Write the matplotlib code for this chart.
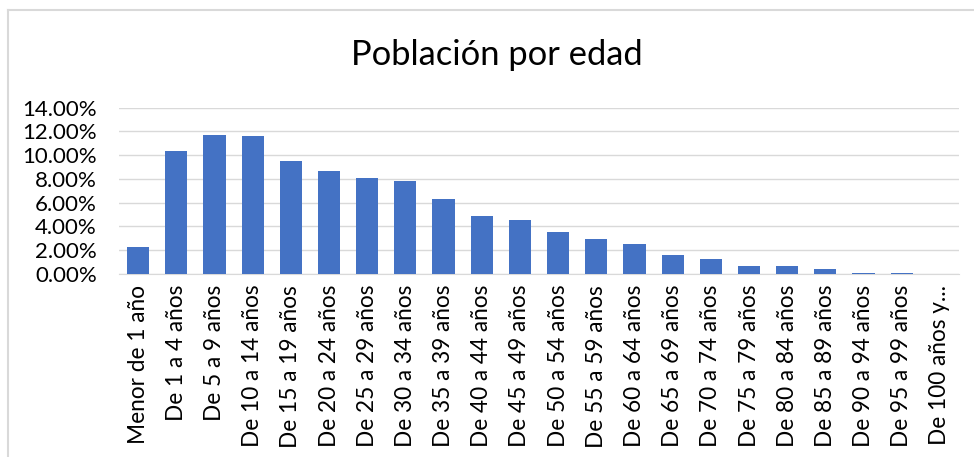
import matplotlib
matplotlib.use("Agg")
import matplotlib.pyplot as plt
from matplotlib.ticker import FuncFormatter, MultipleLocator
from matplotlib.lines import Line2D

categories = ["Menor de 1 año", "De 1 a 4 años", "De 5 a 9 años", "De 10 a 14 años",
              "De 15 a 19 años", "De 20 a 24 años", "De 25 a 29 años", "De 30 a 34 años",
              "De 35 a 39 años", "De 40 a 44 años", "De 45 a 49 años", "De 50 a 54 años",
              "De 55 a 59 años", "De 60 a 64 años", "De 65 a 69 años", "De 70 a 74 años",
              "De 75 a 79 años", "De 80 a 84 años", "De 85 a 89 años", "De 90 a 94 años",
              "De 95 a 99 años", "De 100 años y..."]
values = [2.23, 10.33, 11.70, 11.62, 9.51, 8.69, 8.05, 7.82, 6.33, 4.84, 4.51, 3.52,
          2.93, 2.51, 1.55, 1.24, 0.65, 0.65, 0.37, 0.10, 0.02, 0.0]

plt.rcParams['font.family'] = ['Lato', 'DejaVu Sans']

W, H = 974, 457
fig = plt.figure(figsize=(W / 100, H / 100), dpi=100)
ax = fig.add_axes([119 / W, 1 - 273.7 / H, (959 - 119) / W, (273.7 - 107.7) / H])

# chart frame (left and top edges visible)
fig.lines.append(Line2D([7.5 / W, 7.5 / W], [0, 1 - 9.5 / H], transform=fig.transFigure,
                        color='#d9d9d9', linewidth=1.5))
fig.lines.append(Line2D([7.5 / W, 1], [1 - 9.5 / H, 1 - 9.5 / H], transform=fig.transFigure,
                        color='#d9d9d9', linewidth=1.5))

x = range(len(categories))
ax.bar(x, values, width=0.58, color='#4472C4', zorder=3)
ax.set_xlim(-0.5, len(categories) - 0.5)
ax.set_ylim(0, 14)
ax.yaxis.set_major_locator(MultipleLocator(2))
ax.yaxis.set_major_formatter(FuncFormatter(lambda v, p: f"{v:.2f}%"))
ax.grid(axis='y', color='#d9d9d9', linewidth=1, zorder=0)
for s in ['top', 'right', 'left']:
    ax.spines[s].set_visible(False)
ax.spines['bottom'].set_color('#d9d9d9')
ax.tick_params(axis='both', length=0, colors='black')
ax.tick_params(axis='y', pad=16, labelsize=16)
ax.set_xticks(list(x))
ax.set_xticklabels(categories, rotation=90, fontsize=16.3)
ax.tick_params(axis='x', pad=8)
fig.text(497 / W, 1 - 65 / H, "Población por edad", ha='center', va='baseline', fontsize=24.8)

fig.savefig("out.png", dpi=100)
